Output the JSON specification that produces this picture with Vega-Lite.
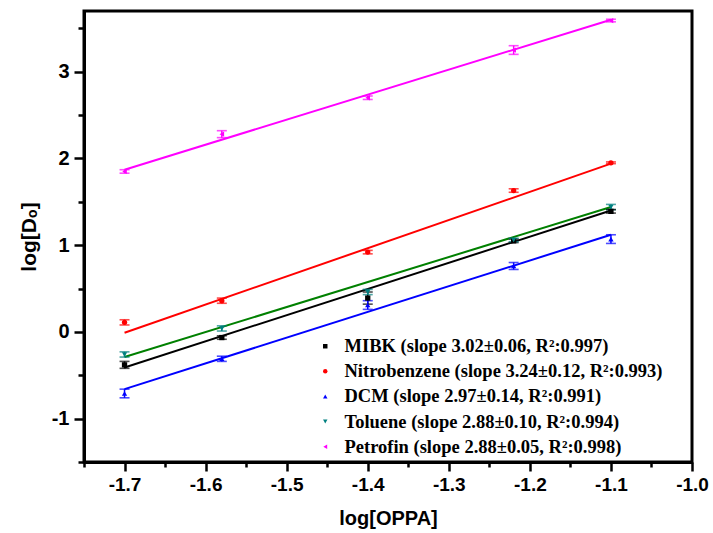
{
  "$schema": "https://vega.github.io/schema/vega-lite/v6.json",
  "autosize": {"type": "none"},
  "width": 608,
  "height": 451,
  "padding": {"left": 84, "top": 11, "right": 21, "bottom": 71},
  "background": "white",
  "config": {
    "view": {"stroke": "black", "strokeWidth": 3},
    "axis": {"grid": false, "domainColor": "black", "tickColor": "black", "labelColor": "black", "titleColor": "black"}
  },
  "datasets": {
    "pts": [
      {"series": "MIBK", "x": -1.7, "y": -0.38, "lo": -0.42, "hi": -0.34},
      {"series": "MIBK", "x": -1.58, "y": -0.065, "lo": -0.085, "hi": -0.045},
      {"series": "MIBK", "x": -1.4, "y": 0.39, "lo": 0.32, "hi": 0.46},
      {"series": "MIBK", "x": -1.22, "y": 1.05, "lo": 1.03, "hi": 1.07},
      {"series": "MIBK", "x": -1.1, "y": 1.39, "lo": 1.37, "hi": 1.41},
      {"series": "Nitrobenzene", "x": -1.7, "y": 0.11, "lo": 0.08, "hi": 0.14},
      {"series": "Nitrobenzene", "x": -1.58, "y": 0.36, "lo": 0.33, "hi": 0.39},
      {"series": "Nitrobenzene", "x": -1.4, "y": 0.92, "lo": 0.9, "hi": 0.94},
      {"series": "Nitrobenzene", "x": -1.22, "y": 1.63, "lo": 1.61, "hi": 1.65},
      {"series": "Nitrobenzene", "x": -1.1, "y": 1.95, "lo": 1.94, "hi": 1.96},
      {"series": "DCM", "x": -1.7, "y": -0.71, "lo": -0.76, "hi": -0.66},
      {"series": "DCM", "x": -1.58, "y": -0.31, "lo": -0.34, "hi": -0.28},
      {"series": "DCM", "x": -1.4, "y": 0.31, "lo": 0.26, "hi": 0.36},
      {"series": "DCM", "x": -1.22, "y": 0.76, "lo": 0.72, "hi": 0.8},
      {"series": "DCM", "x": -1.1, "y": 1.07, "lo": 1.02, "hi": 1.12},
      {"series": "Toluene", "x": -1.7, "y": -0.26, "lo": -0.29, "hi": -0.23},
      {"series": "Toluene", "x": -1.58, "y": 0.04, "lo": 0.01, "hi": 0.07},
      {"series": "Toluene", "x": -1.4, "y": 0.46, "lo": 0.43, "hi": 0.49},
      {"series": "Toluene", "x": -1.22, "y": 1.06, "lo": 1.04, "hi": 1.08},
      {"series": "Toluene", "x": -1.1, "y": 1.44, "lo": 1.41, "hi": 1.47},
      {"series": "Petrofin", "x": -1.7, "y": 1.85, "lo": 1.83, "hi": 1.87},
      {"series": "Petrofin", "x": -1.58, "y": 2.28, "lo": 2.24, "hi": 2.32},
      {"series": "Petrofin", "x": -1.4, "y": 2.7, "lo": 2.68, "hi": 2.72},
      {"series": "Petrofin", "x": -1.22, "y": 3.25, "lo": 3.2, "hi": 3.3},
      {"series": "Petrofin", "x": -1.1, "y": 3.59, "lo": 3.575, "hi": 3.605}
    ],
    "fits": [
      {"series": "MIBK", "x": -1.7, "y": -0.41},
      {"series": "MIBK", "x": -1.1, "y": 1.4},
      {"series": "Nitrobenzene", "x": -1.7, "y": -0.01},
      {"series": "Nitrobenzene", "x": -1.1, "y": 1.94},
      {"series": "DCM", "x": -1.7, "y": -0.66},
      {"series": "DCM", "x": -1.1, "y": 1.12},
      {"series": "Toluene", "x": -1.7, "y": -0.29},
      {"series": "Toluene", "x": -1.1, "y": 1.44},
      {"series": "Petrofin", "x": -1.7, "y": 1.87},
      {"series": "Petrofin", "x": -1.1, "y": 3.6}
    ]
  },
  "resolve": {
    "scale": {"x": "shared", "y": "shared", "color": "independent", "shape": "independent"},
    "axis": {"x": "independent", "y": "independent"}
  },
  "layer": [
    {
      "data": {"name": "fits"},
      "mark": {"type": "line", "strokeWidth": 2},
      "encoding": {
        "x": {"field": "x", "type": "quantitative",
          "scale": {"domain": [-1.75, -1.0], "nice": false, "zero": false},
          "axis": {"orient": "bottom", "values": [-1.7, -1.6, -1.5, -1.4, -1.3, -1.2, -1.1, -1.0], "format": ".1f",
            "labelExpr": "replace(datum.label, '\u2212', '-')",
            "tickSize": 9, "tickWidth": 2.5, "domainWidth": 3, "labelPadding": 4,
            "labelFont": "Liberation Sans", "labelFontWeight": "bold", "labelFontSize": 19,
            "labelOverlap": false, "labelFlush": false, "labelBound": false,
            "title": "log[OPPA]", "titleFont": "Liberation Sans", "titleFontWeight": "bold", "titleFontSize": 20, "titlePadding": 14}},
        "y": {"field": "y", "type": "quantitative",
          "scale": {"domain": [-1.5, 3.7], "nice": false, "zero": false},
          "axis": {"orient": "left", "values": [-1, 0, 1, 2, 3], "format": "d",
            "labelExpr": "replace(datum.label, '\u2212', '-')",
            "tickSize": 10, "tickWidth": 2.5, "domainWidth": 3, "labelPadding": 5,
            "labelFont": "Liberation Sans", "labelFontWeight": "bold", "labelFontSize": 20,
            "labelOverlap": false, "labelFlush": false, "labelBound": false,
            "title": "log[Dₒ]", "titleFont": "Liberation Sans", "titleFontWeight": "bold", "titleFontSize": 21, "titlePadding": 12}},
        "color": {"field": "series", "type": "nominal",
          "scale": {"domain": ["MIBK", "Nitrobenzene", "DCM", "Toluene", "Petrofin"], "range": ["#000000", "#ff0000", "#0000ff", "#008000", "#ff00ff"]},
          "legend": null},
        "detail": {"field": "series"}
      }
    },
    {
      "data": {"name": "pts"},
      "mark": {"type": "rule", "strokeWidth": 1.5},
      "encoding": {
        "x": {"field": "x", "type": "quantitative",
          "axis": {"orient": "bottom", "values": [-1.75, -1.65, -1.55, -1.45, -1.35, -1.25, -1.15, -1.05], "labels": false, "domain": false, "tickSize": 5, "tickWidth": 2.5, "title": null}},
        "y": {"field": "lo", "type": "quantitative",
          "axis": {"orient": "left", "values": [-1.5, -0.5, 0.5, 1.5, 2.5, 3.5], "labels": false, "domain": false, "tickSize": 6, "tickWidth": 2.5, "title": null}},
        "y2": {"field": "hi"},
        "color": {"field": "series", "type": "nominal",
          "scale": {"domain": ["MIBK", "Nitrobenzene", "DCM", "Toluene", "Petrofin"], "range": ["#000000", "#ff0000", "#0000ff", "#008080", "#ff00ff"]},
          "legend": null}
      }
    },
    {
      "data": {"name": "pts"},
      "mark": {"type": "tick", "orient": "horizontal", "size": 10, "thickness": 1.6},
      "encoding": {
        "x": {"field": "x", "type": "quantitative", "axis": null},
        "y": {"field": "lo", "type": "quantitative", "axis": null},
        "color": {"field": "series", "type": "nominal",
          "scale": {"domain": ["MIBK", "Nitrobenzene", "DCM", "Toluene", "Petrofin"], "range": ["#000000", "#ff0000", "#0000ff", "#008080", "#ff00ff"]},
          "legend": null}
      }
    },
    {
      "data": {"name": "pts"},
      "mark": {"type": "tick", "orient": "horizontal", "size": 10, "thickness": 1.6},
      "encoding": {
        "x": {"field": "x", "type": "quantitative", "axis": null},
        "y": {"field": "hi", "type": "quantitative", "axis": null},
        "color": {"field": "series", "type": "nominal",
          "scale": {"domain": ["MIBK", "Nitrobenzene", "DCM", "Toluene", "Petrofin"], "range": ["#000000", "#ff0000", "#0000ff", "#008080", "#ff00ff"]},
          "legend": null}
      }
    },
    {
      "data": {"name": "pts"},
      "mark": {"type": "point", "filled": true, "size": 28, "opacity": 1},
      "encoding": {
        "x": {"field": "x", "type": "quantitative", "axis": null},
        "y": {"field": "y", "type": "quantitative", "axis": null},
        "color": {"field": "series", "type": "nominal",
          "scale": {"domain": ["MIBK", "Nitrobenzene", "DCM", "Toluene", "Petrofin"], "range": ["#000000", "#ff0000", "#0000ff", "#008080", "#ff00ff"]},
          "legend": {"orient": "none", "legendX": 232, "legendY": 326, "title": null, "padding": 0,
            "symbolSize": 20, "symbolType": "square", "labelOffset": 10, "rowPadding": 6.1,
            "labelFont": "Liberation Serif", "labelFontWeight": "bold", "labelFontSize": 18.5, "labelColor": "black", "labelLimit": 400,
            "labelExpr": "datum.label == 'MIBK' ? 'MIBK (slope 3.02±0.06, R²:0.997)' : datum.label == 'Nitrobenzene' ? 'Nitrobenzene (slope 3.24±0.12, R²:0.993)' : datum.label == 'DCM' ? 'DCM (slope 2.97±0.14, R²:0.991)' : datum.label == 'Toluene' ? 'Toluene (slope 2.88±0.10, R²:0.994)' : 'Petrofin (slope 2.88±0.05, R²:0.998)'"}},
        "shape": {"field": "series", "type": "nominal",
          "scale": {"domain": ["MIBK", "Nitrobenzene", "DCM", "Toluene", "Petrofin"], "range": ["square", "circle", "triangle-up", "triangle-down", "triangle-left"]}}
      }
    }
  ]
}
